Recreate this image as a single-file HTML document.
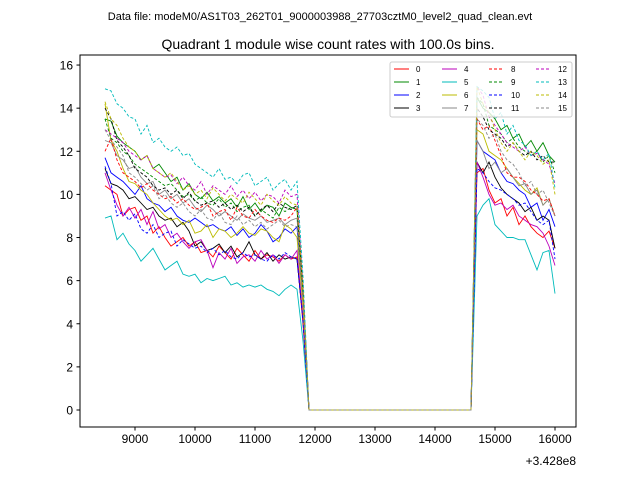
<!DOCTYPE html>
<html><head><meta charset="utf-8"><style>
body{margin:0;background:#fff}
svg{display:block;font-family:"Liberation Sans","DejaVu Sans",sans-serif}
</style></head><body>
<svg id="chart" width="640" height="480">
<text x="320" y="20" font-size="11" text-anchor="middle">Data file: modeM0/AS1T03_262T01_9000003988_27703cztM0_level2_quad_clean.evt</text>
<text x="328" y="49" font-size="14" text-anchor="middle">Quadrant 1 module wise count rates with 100.0s bins.</text>
<rect x="80" y="55" width="496" height="372" fill="none" stroke="#000" stroke-width="1"/>
<g id="xticks"></g>
<g id="yticks"></g>
<g id="series"></g>
<text x="576" y="465" font-size="12" text-anchor="end">+3.428e8</text>
<g id="legend"></g>
</svg>
<script>
const xStart = 8500, xStep = 100, nBins = 76;
const xTicks = [9000,10000,11000,12000,13000,14000,15000,16000];
const yTicks = [0,2,4,6,8,10,12,14,16];
const seriesNames = ["0","1","2","3","4","5","6","7","8","9","10","11","12","13","14","15"];
const colors = ["#f00","#080","#00f","#000","#b0b","#0bb","#bb0","#888","#f00","#080","#00f","#000","#b0b","#0bb","#bb0","#888"];
// left segment 8500..11800 (34 values), right segment 14700..16000 (14 values); zero in between
const left0=[10.4,10.2,10.0,9.0,9.3,9.4,8.8,9.0,8.2,8.5,8.0,7.6,7.8,8.0,7.6,7.8,7.3,7.4,7.1,7.6,7.3,7.0,7.5,7.2,6.9,7.4,7.0,7.2,7.1,6.9,7.2,7.0,7.1,4.0];
const right0=[11.0,11.2,10.2,9.6,9.8,9.0,9.4,8.6,9.0,8.5,8.2,8.0,8.3,7.5];
const left1=[13.5,13.4,12.7,12.4,12.2,12.0,11.6,11.8,11.2,11.4,11.0,10.6,10.8,10.2,10.5,10.0,9.8,10.1,9.7,9.9,9.6,9.8,9.4,9.9,9.3,9.6,9.2,9.5,9.4,9.0,9.6,9.4,9.3,5.5];
const right1=[14.5,14.0,13.8,13.5,13.0,13.2,12.6,12.8,12.2,12.5,12.0,12.4,11.8,11.5];
const left2=[11.7,11.0,10.8,10.6,10.3,10.0,10.4,9.8,9.6,9.5,9.2,9.4,9.0,8.8,8.7,8.9,8.7,8.5,8.6,8.4,8.3,8.5,8.1,8.4,8.0,8.2,8.6,8.3,7.8,8.0,8.4,8.2,8.5,5.0];
const right2=[12.5,12.0,11.8,11.6,11.0,10.6,10.5,10.2,10.0,9.4,9.6,8.8,9.3,8.5];
const left3=[11.2,10.5,10.4,10.2,9.8,9.9,9.6,9.3,9.4,9.0,8.8,8.9,8.5,8.7,8.3,7.6,7.8,7.4,7.5,7.7,7.3,7.6,7.1,7.3,7.8,7.2,7.0,7.3,6.9,7.2,7.0,7.1,7.0,4.2];
const right3=[11.5,11.0,11.5,10.8,10.3,10.0,9.8,9.6,9.2,9.4,8.8,9.0,8.8,7.5];
const left4=[11.0,10.2,9.5,9.0,9.4,8.9,9.3,8.6,9.2,8.4,8.6,8.0,8.2,7.8,7.5,7.8,7.9,7.4,6.6,7.3,7.0,7.5,6.8,7.1,7.2,6.9,7.4,7.0,7.2,6.8,7.2,7.0,7.4,4.3];
const right4=[11.5,10.8,10.0,9.5,9.6,9.3,9.5,9.0,8.8,8.6,8.5,8.2,7.6,6.7];
const left5=[8.9,9.0,7.9,8.2,7.7,7.4,6.9,7.2,7.5,7.0,6.5,6.7,6.9,6.3,6.2,6.3,5.9,6.1,6.0,6.1,6.2,5.8,5.9,5.7,5.8,5.7,5.8,5.6,5.5,5.3,5.6,5.8,5.6,3.2];
const right5=[9.0,9.5,9.8,8.6,8.3,8.0,8.0,7.9,7.9,7.2,6.5,7.3,7.4,5.4];
const left6=[14.2,12.5,12.0,11.2,10.6,10.5,10.2,10.0,9.6,9.3,9.0,8.8,8.9,8.6,8.8,8.2,8.3,8.6,8.0,8.4,8.3,8.0,8.2,8.5,8.2,8.1,8.4,8.3,8.0,7.8,8.6,8.4,8.0,4.8];
const right6=[13.0,12.8,12.0,11.8,11.6,11.2,10.8,10.5,10.2,10.0,10.3,9.5,9.8,9.0];
const left7=[12.5,12.4,11.8,11.6,11.2,11.3,10.8,10.5,10.6,10.0,10.2,9.8,10.0,9.6,9.8,9.4,9.2,9.5,9.3,9.0,9.2,9.0,8.8,9.1,8.9,8.8,9.0,8.7,8.8,8.9,8.6,8.8,8.9,5.2];
const right7=[12.5,12.0,11.2,11.5,11.0,11.2,10.8,10.4,10.5,10.0,10.2,9.5,9.8,9.0];
const left8=[12.0,12.6,11.6,11.0,10.8,10.6,10.3,10.5,10.2,10.0,9.8,9.9,9.6,9.8,9.5,9.3,9.4,9.6,9.0,9.2,9.3,8.8,9.4,9.0,8.9,9.3,9.0,8.8,8.7,8.9,8.8,9.0,9.4,5.5];
const right8=[13.5,13.0,13.2,12.5,11.8,11.0,10.8,10.8,10.6,10.2,10.0,9.7,9.8,9.0];
const left9=[13.5,12.6,12.4,12.0,11.8,11.4,11.2,11.0,10.8,10.6,10.4,10.5,10.2,9.9,10.0,9.7,9.9,9.6,9.5,9.8,9.4,9.6,9.2,9.4,9.5,9.0,9.3,9.1,8.9,9.4,9.2,9.4,9.3,5.5];
const right9=[14.5,14.2,13.2,13.0,12.8,12.4,12.6,12.2,12.0,11.8,12.0,11.5,11.8,11.0];
const left10=[11.3,10.5,9.0,9.2,8.8,9.1,8.4,8.2,8.6,8.0,8.2,8.3,7.6,7.9,7.7,7.5,7.6,7.3,7.5,7.2,7.4,7.1,7.0,7.3,7.1,7.2,7.0,6.9,7.2,7.0,7.3,7.1,7.0,4.1];
const right10=[11.2,11.0,10.6,10.3,10.2,10.0,9.8,9.5,9.6,9.2,8.8,8.6,8.8,7.0];
const left11=[14.0,13.5,12.5,12.2,11.8,11.2,11.0,10.8,10.4,10.2,10.3,10.0,10.2,9.8,10.1,9.7,9.5,9.6,9.7,9.4,9.6,9.3,9.5,9.2,9.4,9.0,9.3,9.5,9.2,9.6,9.4,9.3,9.5,5.6];
const right11=[14.0,13.6,13.0,12.8,12.6,12.2,12.4,12.0,11.8,12.0,11.6,11.8,11.5,11.5];
const left12=[13.0,12.8,12.6,12.4,12.0,11.8,11.6,11.8,11.2,11.0,10.8,10.9,10.5,10.8,10.4,10.2,10.6,10.0,10.4,10.2,10.0,10.4,9.9,10.2,9.8,10.1,9.7,10.0,9.9,9.6,10.2,9.9,10.0,5.8];
const right12=[15.0,14.6,13.6,13.2,12.8,12.4,12.2,12.0,12.2,11.8,11.9,11.6,11.4,10.5];
const left13=[14.9,14.8,14.2,14.0,13.6,13.5,12.8,13.2,12.4,12.6,12.2,12.0,12.2,11.8,11.9,11.4,11.2,11.0,10.8,11.2,10.7,10.8,10.5,10.9,11.0,10.4,10.6,10.8,10.2,10.5,10.7,10.2,10.6,6.2];
const right13=[15.0,14.8,14.5,13.5,13.8,12.8,13.2,12.5,12.3,11.8,12.0,11.6,11.9,10.3];
const left14=[14.3,13.5,13.2,12.6,12.2,12.0,11.6,11.8,11.2,11.0,10.8,11.0,10.6,10.2,10.4,10.0,10.2,9.8,10.3,10.0,9.7,10.0,9.8,9.6,10.1,9.8,9.5,10.0,9.7,9.5,9.9,9.6,9.5,5.6];
const right14=[15.0,14.2,13.8,13.0,12.4,12.0,12.4,12.0,11.6,12.0,11.8,11.4,11.6,10.0];
const left15=[13.0,12.5,12.2,11.8,11.0,10.8,10.5,10.2,10.4,9.8,10.0,9.6,9.4,9.6,9.2,9.0,9.3,8.9,8.8,9.2,8.7,8.6,9.0,8.6,8.8,8.5,8.7,8.4,8.6,8.8,8.5,8.6,8.5,5.0];
const right15=[13.5,13.2,12.6,12.8,12.0,11.6,11.4,11.0,10.4,10.6,10.0,10.2,9.6,9.0];
const lefts=[left0,left1,left2,left3,left4,left5,left6,left7,left8,left9,left10,left11,left12,left13,left14,left15];
const rights=[right0,right1,right2,right3,right4,right5,right6,right7,right8,right9,right10,right11,right12,right13,right14,right15];

const NS="http://www.w3.org/2000/svg";
const X0=8500,PX0=105,PXU=0.06, Y0=410, PYU=21.56;
function xs(v){return PX0+(v-X0)*PXU;}
function ys(v){return Y0-v*PYU;}
function mk(tag,attrs,parent){const e=document.createElementNS(NS,tag);for(const k in attrs)e.setAttribute(k,attrs[k]);parent.appendChild(e);return e;}
const gx=document.getElementById('xticks'),gy=document.getElementById('yticks');
xTicks.forEach(t=>{
  const l=mk('line',{x1:xs(t),x2:xs(t),y1:427,y2:430.5,stroke:'#000'},gx);
  
  
  const tx=mk('text',{x:xs(t),y:443,'font-size':12,'text-anchor':'middle'},gx);
  tx.textContent=t;
  
  
});
yTicks.forEach(t=>{
  const l=mk('line',{x1:76.5,x2:80,y1:ys(t),y2:ys(t),stroke:'#000'},gy);
  
  
  const tx=mk('text',{x:73,y:ys(t)+4.5,'font-size':12,'text-anchor':'end'},gy);
  tx.textContent=t;
  
  
});
const gs=document.getElementById('series');
for(let s=0;s<16;s++){
  const vals=[];
  for(let i=0;i<nBins;i++){
    const x=xStart+i*xStep;
    let v=0;
    if(i<lefts[s].length) v=lefts[s][i];
    else if(x>=14700){const j=(x-14700)/xStep; v=rights[s][j];}
    vals.push([x,v]);
  }
  const d=vals.map((p,i)=>(i?'L':'M')+xs(p[0]).toFixed(1)+','+ys(p[1]).toFixed(1)).join('');
  const attrs={d:d,fill:'none',stroke:colors[s],'stroke-width':0.9};
  if(s>=8) attrs['stroke-dasharray']='3,2';
  const p=mk('path',attrs,gs);
  
  
}
const gl=document.getElementById('legend');
const box=mk('rect',{x:390,y:62,width:182,height:55,fill:'#fff','fill-opacity':0.8,stroke:'#ccc',rx:2},gl);


const colX=[394,442,489,536];
for(let s=0;s<16;s++){
  const c=Math.floor(s/4), r=s%4;
  const x=colX[c], y=69+r*13;
  const la={x1:x,x2:x+15,y1:y,y2:y,stroke:colors[s],'stroke-width':1};
  if(s>=8) la['stroke-dasharray']='3,2';
  const l=mk('line',la,gl);
  
  
  const t=mk('text',{x:x+22,y:y+3,'font-size':8},gl);
  t.textContent=seriesNames[s];
  
  
}
</script>
</body></html>
